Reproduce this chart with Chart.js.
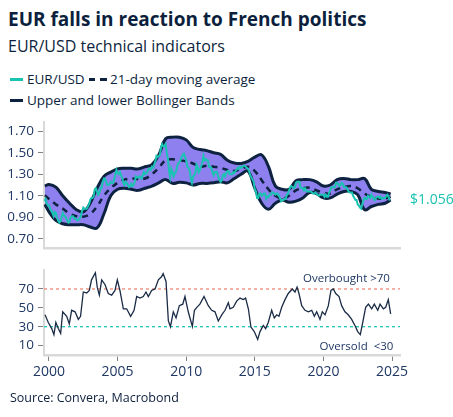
<!DOCTYPE html>
<html>
<head>
<meta charset="utf-8">
<script src="https://cdn.jsdelivr.net/npm/chart.js@4.4.1/dist/chart.umd.min.js"></script>
<style>
  body { margin: 0; background: #fff; }
  #wrap { position: relative; width: 453px; height: 417px; font-family: "Open Sans", sans-serif; color: #0c1f3d; }
  .txt { position: absolute; white-space: nowrap; }
  .sw { position: absolute; height: 3px; }
  canvas { position: absolute; left: 0; }
</style>
</head>
<body>
<div id="wrap">
  <div class="txt" style="left:8px; top:6px; font-weight:700; font-size:19px;">EUR falls in reaction to French politics</div>
  <div class="txt" style="left:8px; top:35px; font-size:16px;">EUR/USD technical indicators</div>

  <div class="sw" style="left:10px; top:78px; width:13px; background:#19c3b1;"></div>
  <div class="txt" style="left:27px; top:70px; font-size:13.5px;">EUR/USD</div>
  <div class="sw" style="left:89px; top:78px; width:6px; background:#0d2240;"></div>
  <div class="sw" style="left:100px; top:78px; width:7px; background:#0d2240;"></div>
  <div class="txt" style="left:110px; top:70px; font-size:13.5px;">21-day moving average</div>
  <div class="sw" style="left:10px; top:99px; width:13px; background:#0d2240;"></div>
  <div class="txt" style="left:27px; top:91px; font-size:13.5px;">Upper and lower Bollinger Bands</div>

  <canvas id="top" width="453" height="150" style="top:110px;"></canvas>
  <canvas id="rsi" width="453" height="135" style="top:258px;"></canvas>

  <div class="txt" style="left:10px; top:389px; font-size:12.5px;">Source: Convera, Macrobond</div>
</div>
<script>
// EUR/USD, monthly from Sep 1999 to Nov 2024
const eurusd = [
  1.05, 1.07, 1.03, 1.01,
  1.01, 0.98, 0.96, 0.94, 0.91, 0.95, 0.94, 0.90, 0.87, 0.85, 0.86, 0.90,
  0.94, 0.92, 0.91, 0.89, 0.87, 0.85, 0.86, 0.90, 0.91, 0.91, 0.89, 0.89,
  0.88, 0.87, 0.88, 0.89, 0.92, 0.96, 0.99, 0.98, 0.98, 0.98, 1.00, 1.02,
  1.06, 1.08, 1.08, 1.09, 1.16, 1.17, 1.14, 1.11, 1.13, 1.17, 1.17, 1.23,
  1.26, 1.26, 1.23, 1.20, 1.20, 1.21, 1.23, 1.22, 1.22, 1.25, 1.30, 1.34,
  1.31, 1.30, 1.32, 1.29, 1.27, 1.22, 1.20, 1.23, 1.22, 1.20, 1.18, 1.19,
  1.21, 1.19, 1.20, 1.23, 1.28, 1.27, 1.27, 1.28, 1.27, 1.26, 1.29, 1.32,
  1.30, 1.31, 1.32, 1.35, 1.35, 1.34, 1.37, 1.36, 1.39, 1.42, 1.47, 1.46,
  1.47, 1.48, 1.55, 1.58, 1.56, 1.56, 1.58, 1.50, 1.44, 1.33, 1.27, 1.35,
  1.32, 1.28, 1.31, 1.32, 1.37, 1.40, 1.41, 1.43, 1.46, 1.48, 1.49, 1.46,
  1.43, 1.37, 1.36, 1.34, 1.26, 1.22, 1.28, 1.29, 1.31, 1.39, 1.37, 1.32,
  1.34, 1.37, 1.40, 1.47, 1.43, 1.44, 1.43, 1.43, 1.37, 1.37, 1.36, 1.32,
  1.29, 1.32, 1.32, 1.32, 1.28, 1.25, 1.23, 1.24, 1.29, 1.30, 1.28, 1.31,
  1.33, 1.33, 1.30, 1.30, 1.30, 1.32, 1.31, 1.33, 1.34, 1.36, 1.35, 1.37,
  1.36, 1.37, 1.38, 1.38, 1.37, 1.36, 1.35, 1.33, 1.29, 1.27, 1.25, 1.23,
  1.16, 1.14, 1.08, 1.08, 1.12, 1.12, 1.10, 1.11, 1.12, 1.12, 1.07, 1.09,
  1.09, 1.11, 1.11, 1.13, 1.13, 1.12, 1.11, 1.12, 1.12, 1.10, 1.08, 1.05,
  1.06, 1.06, 1.07, 1.07, 1.11, 1.12, 1.15, 1.18, 1.19, 1.18, 1.17, 1.18,
  1.22, 1.23, 1.23, 1.23, 1.18, 1.17, 1.17, 1.15, 1.17, 1.15, 1.14, 1.14,
  1.14, 1.14, 1.13, 1.12, 1.12, 1.13, 1.12, 1.11, 1.10, 1.11, 1.11, 1.11,
  1.11, 1.09, 1.11, 1.09, 1.09, 1.13, 1.15, 1.18, 1.18, 1.18, 1.18, 1.22,
  1.22, 1.21, 1.19, 1.20, 1.22, 1.21, 1.18, 1.18, 1.18, 1.16, 1.14, 1.13,
  1.13, 1.13, 1.10, 1.08, 1.06, 1.06, 1.02, 1.01, 0.99, 0.98, 1.02, 1.06,
  1.08, 1.07, 1.07, 1.10, 1.09, 1.08, 1.11, 1.09, 1.07, 1.06, 1.08, 1.09,
  1.09, 1.08, 1.09, 1.07, 1.08, 1.08, 1.08, 1.10, 1.11, 1.09, 1.056
];
const eurYears = eurusd.map((_, i) => 1999 + (8 + i) / 12);

// Bollinger bands and moving average, read every half year
const bandYears = [1999.7, 2000.0, 2000.5, 2001.0, 2001.5, 2002.0, 2002.5, 2003.0, 2003.5, 2004.0,
  2004.5, 2005.0, 2005.5, 2006.0, 2006.5, 2007.0, 2007.5, 2008.0, 2008.5, 2009.0,
  2009.5, 2010.0, 2010.5, 2011.0, 2011.5, 2012.0, 2012.5, 2013.0, 2013.5, 2014.0,
  2014.5, 2015.0, 2015.5, 2016.0, 2016.5, 2017.0, 2017.5, 2018.0, 2018.5, 2019.0,
  2019.5, 2020.0, 2020.5, 2021.0, 2021.5, 2022.0, 2022.5, 2023.0, 2023.5, 2024.0,
  2024.5, 2024.9];
const upperBand = [1.19, 1.205, 1.18, 1.10, 1.03, 0.97, 0.95, 1.03, 1.17, 1.28,
  1.32, 1.35, 1.355, 1.355, 1.35, 1.37, 1.39, 1.48, 1.63, 1.645,
  1.645, 1.62, 1.55, 1.53, 1.52, 1.50, 1.485, 1.43, 1.405, 1.40,
  1.42, 1.46, 1.48, 1.37, 1.19, 1.16, 1.16, 1.24, 1.25, 1.25,
  1.23, 1.19, 1.20, 1.25, 1.26, 1.25, 1.25, 1.26, 1.16, 1.14,
  1.13, 1.115];
const movingAvg = [1.105, 1.07, 1.02, 0.98, 0.935, 0.91, 0.905, 0.93, 1.00, 1.10,
  1.17, 1.22, 1.25, 1.26, 1.255, 1.26, 1.30, 1.36, 1.43, 1.44,
  1.43, 1.42, 1.40, 1.37, 1.38, 1.37, 1.36, 1.34, 1.33, 1.35,
  1.37, 1.33, 1.245, 1.16, 1.10, 1.075, 1.10, 1.15, 1.17, 1.175,
  1.15, 1.13, 1.12, 1.16, 1.18, 1.19, 1.17, 1.12, 1.09, 1.075,
  1.075, 1.09];
const lowerBand = [1.02, 0.95, 0.87, 0.84, 0.83, 0.83, 0.83, 0.81, 0.80, 0.93,
  1.10, 1.16, 1.17, 1.16, 1.15, 1.17, 1.19, 1.22, 1.25, 1.215,
  1.225, 1.22, 1.20, 1.215, 1.215, 1.22, 1.23, 1.22, 1.26, 1.30,
  1.33, 1.17, 1.03, 0.975, 1.03, 1.06, 1.04, 1.05, 1.08, 1.13,
  1.12, 1.08, 1.08, 1.115, 1.14, 1.14, 1.11, 0.97, 1.00, 1.02,
  1.03, 1.06];

// RSI
const rsiYears = [1999.71, 1999.95, 2000.2, 2000.36, 2000.5, 2000.68, 2000.85, 2001.0, 2001.29, 2001.48,
  2001.65, 2001.9, 2002.14, 2002.3, 2002.5, 2002.75, 2002.94, 2003.1, 2003.38, 2003.52,
  2003.67, 2003.84, 2004.08, 2004.32, 2004.57, 2004.81, 2004.98, 2005.17, 2005.42, 2005.66,
  2005.95, 2006.2, 2006.39, 2006.63, 2006.87, 2007.07, 2007.24, 2007.48, 2007.73, 2007.97,
  2008.2, 2008.32, 2008.53, 2008.7, 2008.85, 2009.06, 2009.26, 2009.5, 2009.75, 2009.91,
  2010.15, 2010.45, 2010.6, 2010.81, 2011.0, 2011.3, 2011.61, 2011.86, 2012.1, 2012.34,
  2012.59, 2012.83, 2013.07, 2013.19, 2013.43, 2013.68, 2013.92, 2014.16, 2014.33, 2014.53,
  2014.72, 2014.96, 2015.21, 2015.38, 2015.62, 2015.79, 2015.98, 2016.23, 2016.42, 2016.6,
  2016.76, 2016.96, 2017.2, 2017.44, 2017.73, 2017.93, 2018.08, 2018.22, 2018.42, 2018.66,
  2018.9, 2019.15, 2019.34, 2019.51, 2019.75, 2019.92, 2020.12, 2020.36, 2020.55, 2020.72,
  2020.9, 2021.14, 2021.33, 2021.57, 2021.81, 2022.06, 2022.3, 2022.5, 2022.69, 2022.91,
  2023.08, 2023.28, 2023.52, 2023.71, 2023.96, 2024.13, 2024.37, 2024.54, 2024.73, 2024.9];
const rsiValues = [42.6, 34.5, 28, 21.5, 34.5, 28, 23, 45.8, 41, 33,
  47.4, 45.8, 37.8, 41, 66.8, 65.8, 68.4, 79.7, 87.2, 71.6,
  63.5, 79.7, 74.8, 65.2, 63.5, 68.4, 79.7, 68.4, 49, 49,
  41, 47.4, 62, 60.3, 62, 66.8, 62, 68.4, 70, 79.7,
  82.9, 86.3, 78, 36.1, 30, 45.8, 39.3, 52.3, 53.9, 62,
  45.8, 30.3, 47.4, 51, 53.9, 62, 52.3, 47.4, 45.8, 36.1,
  42.6, 47.4, 55.5, 49, 50.6, 57.1, 60.3, 58.7, 60.3, 49,
  29.6, 24.8, 16.6, 24.8, 31.3, 28, 34.5, 47.4, 39.3, 42.6,
  41, 50.6, 58.7, 65.2, 70, 66.8, 72, 65.2, 52.3, 47.4,
  45.8, 47.4, 41, 45.8, 37.8, 45.8, 42.6, 52.3, 68.4, 70,
  65.2, 62, 52.3, 45.8, 42.6, 37.8, 31.3, 24.8, 21.6, 37.8,
  50.6, 53.9, 49, 53.9, 47.4, 53.9, 49, 50.6, 58.7, 43.5];

const topTicks = [0.7, 0.8, 0.9, 1.0, 1.1, 1.2, 1.3, 1.4, 1.5, 1.6, 1.7];
const topLabels = [0.7, 0.9, 1.1, 1.3, 1.5, 1.7];
const rsiTicks = [10, 20, 30, 40, 50, 60, 70, 80];
const rsiLabels = [10, 30, 50, 70];
const yearTicks = [2000, 2005, 2010, 2015, 2020, 2025];
const overbought = 70;
const oversold = 30;

const TEAL = '#19c3b1';
const NAVY = '#0d2240';
const BAND_FILL = '#8e80ee';
const TICK_TEXT = '#1f3864';
const AXIS_GREY = '#d9d9d9';
const X_MIN = 1999.636, X_MAX = 2025.583;

const pts = (xs, ys) => xs.map((x, i) => ({ x: x, y: ys[i] }));
const isLabel = (list, v) => list.some(l => Math.abs(l - v) < 1e-6);

const lastLabel = {
  id: 'lastLabel',
  afterDraw(chart) {
    const ctx = chart.ctx;
    const last = eurusd[eurusd.length - 1];
    ctx.save();
    ctx.fillStyle = TEAL;
    ctx.font = '14px "Open Sans"';
    ctx.textAlign = 'left';
    ctx.textBaseline = 'middle';
    ctx.fillText('$' + last.toFixed(3), chart.chartArea.right + 10, chart.scales.y.getPixelForValue(last));
    ctx.restore();
  }
};

new Chart(document.getElementById('top'), {
  type: 'line',
  data: {
    datasets: [
      { label: 'EUR/USD', data: pts(eurYears, eurusd), borderColor: TEAL, borderWidth: 2, pointRadius: 0, tension: 0 },
      { label: '21-day moving average', data: pts(bandYears, movingAvg), borderColor: NAVY, borderWidth: 2.5, borderDash: [6, 5], pointRadius: 0, tension: 0.4 },
      { label: 'Upper Bollinger Band', data: pts(bandYears, upperBand), borderColor: NAVY, borderWidth: 3, pointRadius: 0, tension: 0.4, fill: '+1', backgroundColor: BAND_FILL },
      { label: 'Lower Bollinger Band', data: pts(bandYears, lowerBand), borderColor: NAVY, borderWidth: 3, pointRadius: 0, tension: 0.4 }
    ]
  },
  options: {
    responsive: false,
    animation: false,
    layout: { padding: { top: 10, right: 53, bottom: 2, left: 0 } },
    plugins: {
      legend: { display: false },
      tooltip: { enabled: false },
      filler: { drawTime: 'beforeDatasetsDraw' }
    },
    scales: {
      x: {
        type: 'linear', min: X_MIN, max: X_MAX,
        ticks: { display: false },
        grid: { display: false },
        border: { color: AXIS_GREY, width: 2.5 },
        afterFit(s) { s.height = 0; }
      },
      y: {
        min: 0.615, max: 1.785,
        afterBuildTicks(s) { s.ticks = topTicks.map(v => ({ value: v })); },
        ticks: {
          color: TICK_TEXT, font: { family: 'Open Sans', size: 13.5 }, padding: 4,
          callback: v => isLabel(topLabels, v) ? v.toFixed(2) : ''
        },
        grid: { drawOnChartArea: false, tickLength: 6, color: '#808080' },
        border: { color: AXIS_GREY, width: 2 },
        afterFit(s) { s.width = 44; }
      }
    }
  },
  plugins: [lastLabel]
});

const rsiNotes = {
  id: 'rsiNotes',
  afterDraw(chart) {
    const ctx = chart.ctx, x = chart.scales.x, y = chart.scales.y;
    ctx.save();
    ctx.fillStyle = TICK_TEXT;
    ctx.font = '11.5px "Open Sans"';
    ctx.textAlign = 'right';
    ctx.textBaseline = 'middle';
    ctx.fillText('Overbought >70', x.getPixelForValue(2024.85), y.getPixelForValue(80.5));
    ctx.fillText('Oversold  <30', x.getPixelForValue(2025.1), y.getPixelForValue(9));
    ctx.restore();
  }
};

new Chart(document.getElementById('rsi'), {
  type: 'line',
  data: {
    datasets: [
      { label: 'RSI', data: pts(rsiYears, rsiValues), borderColor: '#1a2b45', borderWidth: 1.3, pointRadius: 0, tension: 0 },
      { label: 'Overbought', data: pts([X_MIN, X_MAX], [overbought, overbought]), borderColor: '#f08878', borderWidth: 1.3, borderDash: [3, 3], pointRadius: 0 },
      { label: 'Oversold', data: pts([X_MIN, X_MAX], [oversold, oversold]), borderColor: '#1cc7b5', borderWidth: 1.3, borderDash: [3, 3], pointRadius: 0 }
    ]
  },
  options: {
    responsive: false,
    animation: false,
    layout: { padding: { top: 4, right: 53, bottom: 0, left: 0 } },
    plugins: { legend: { display: false }, tooltip: { enabled: false } },
    scales: {
      x: {
        type: 'linear', min: X_MIN, max: X_MAX,
        afterBuildTicks(s) { s.ticks = yearTicks.map(v => ({ value: v })); },
        ticks: { color: TICK_TEXT, font: { family: 'Open Sans', size: 14 }, padding: 3, maxRotation: 0, callback: v => String(v) },
        grid: { drawOnChartArea: false, tickLength: 6, color: '#808080' },
        border: { color: AXIS_GREY, width: 2.5 },
        afterFit(s) { s.height = 38; }
      },
      y: {
        min: 0, max: 90,
        afterBuildTicks(s) { s.ticks = rsiTicks.map(v => ({ value: v })); },
        ticks: {
          color: TICK_TEXT, font: { family: 'Open Sans', size: 13.5 }, padding: 4,
          callback: v => isLabel(rsiLabels, v) ? String(v) : ''
        },
        grid: { drawOnChartArea: false, tickLength: 6, color: '#808080' },
        border: { color: AXIS_GREY, width: 2 },
        afterFit(s) { s.width = 44; }
      }
    }
  },
  plugins: [rsiNotes]
});
</script>
</body>
</html>
